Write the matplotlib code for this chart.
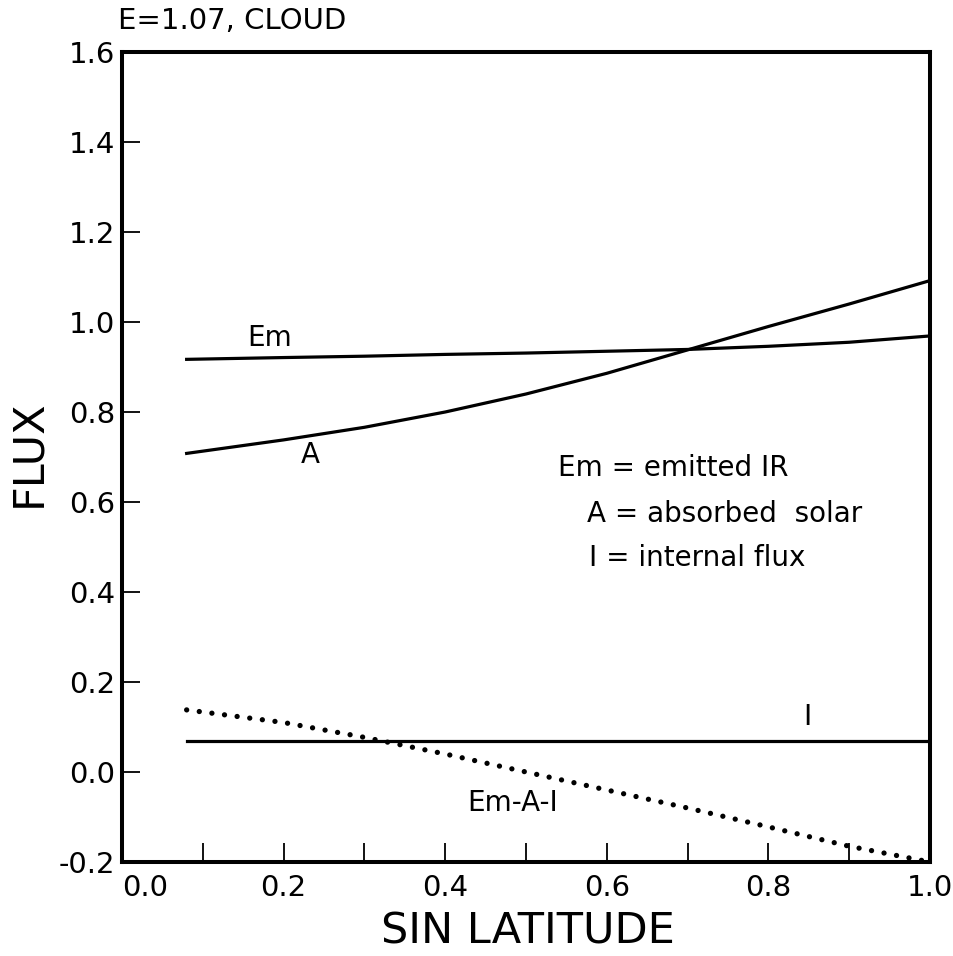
import matplotlib
matplotlib.use("Agg")
import matplotlib.pyplot as plt
from matplotlib.ticker import MultipleLocator, FixedLocator

plt.rcParams['font.family'] = ['DejaVu Sans']

# Data
sin_lat = [0.08, 0.2, 0.3, 0.4, 0.5, 0.6, 0.7, 0.8, 0.9, 1.0]
emitted = [0.917, 0.921, 0.924, 0.928, 0.931, 0.935, 0.939, 0.946, 0.955, 0.969]
absorbed = [0.708, 0.738, 0.766, 0.800, 0.840, 0.886, 0.938, 0.990, 1.040, 1.092]
internal = [0.068, 0.068, 0.068, 0.068, 0.068, 0.068, 0.068, 0.068, 0.068, 0.068]
residual = [0.138, 0.110, 0.077, 0.040, 0.000, -0.040, -0.080, -0.122, -0.165, -0.200]

xticks = [0.0, 0.2, 0.4, 0.6, 0.8, 1.0]
xtick_labels = ["0.0", "0.2", "0.4", "0.6", "0.8", "1.0"]
yticks = [-0.2, 0.0, 0.2, 0.4, 0.6, 0.8, 1.0, 1.2, 1.4, 1.6]
ytick_labels = ["-0.2", "0.0", "0.2", "0.4", "0.6", "0.8", "1.0", "1.2", "1.4", "1.6"]

fig = plt.figure(figsize=(9.54, 9.56), dpi=100)
ax = fig.add_axes([122/954, 1-862/956, 808/954, 810/956])

lw = 2.3
ax.plot(sin_lat, emitted, color='black', lw=lw)
ax.plot(sin_lat, absorbed, color='black', lw=lw)
ax.plot(sin_lat, internal, color='black', lw=lw)
ax.plot(sin_lat, residual, color='black', lw=3.8, linestyle=(0, (0.01, 2.4)),
        dash_capstyle='round', clip_on=False)

ax.set_xlim(0.0, 1.0)
ax.set_ylim(-0.2, 1.6)

for s in ax.spines.values():
    s.set_linewidth(2.9)

ax.xaxis.set_major_locator(FixedLocator(xticks))
ax.set_xticklabels(xtick_labels)
ax.xaxis.set_minor_locator(MultipleLocator(0.1))
ax.set_yticks(yticks)
ax.set_yticklabels(ytick_labels)

ax.tick_params(axis='x', which='both', direction='in', length=14, width=1.3,
               labelsize=21, pad=9, top=False)
ax.tick_params(axis='y', which='both', direction='in', length=13, width=1.3,
               labelsize=21, pad=5, right=False)
ax.get_xticklabels()[0].set_horizontalalignment('left')

# Curve labels
fs = 20
ax.text(0.183, 0.965, "Em", fontsize=fs, ha='center', va='center')
ax.text(0.233, 0.705, "A", fontsize=fs, ha='center', va='center')
ax.text(0.848, 0.122, "I", fontsize=fs, ha='center', va='center')
ax.text(0.484, -0.069, "Em-A-I", fontsize=fs, ha='center', va='center')

# Key
ax.text(0.54, 0.675, "Em = emitted IR", fontsize=fs, ha='left', va='center')
ax.text(0.575, 0.573, "A = absorbed  solar", fontsize=fs, ha='left', va='center')
ax.text(0.578, 0.476, "I = internal flux", fontsize=fs, ha='left', va='center')

fig.text(118/954, 1-21/956, "E=1.07, CLOUD", fontsize=21, ha='left', va='center')
fig.text(28/954, 1-453/956, "FLUX", fontsize=31, rotation=90, ha='center', va='center')
fig.text(528/954, 1-931/956, "SIN LATITUDE", fontsize=31, ha='center', va='center')

fig.savefig("out.png", dpi=100)
